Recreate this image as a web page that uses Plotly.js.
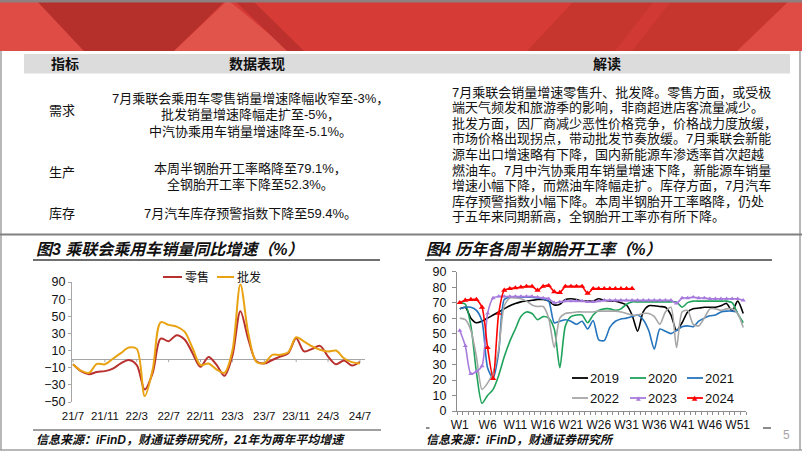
<!DOCTYPE html>
<html><head><meta charset="utf-8">
<script src="https://cdn.plot.ly/plotly-3.0.1.min.js"></script>
<style>html,body{margin:0;padding:0;background:#fff}#chart{width:802px;height:451px}</style>
</head><body><div id="chart"></div>
<script>
// ---------- DATA ----------
const months = ['21/7','21/8','21/9','21/10','21/11','21/12','22/1','22/2','22/3','22/4','22/5','22/6','22/7','22/8','22/9','22/10','22/11','22/12','23/1','23/2','23/3','23/4','23/5','23/6','23/7','23/8','23/9','23/10','23/11','23/12','24/1','24/2','24/3','24/4','24/5','24/6','24/7'];
const monthTicks = ['21/7','21/11','22/3','22/7','22/11','23/3','23/7','23/11','24/3','24/7'];
const retail = [-6,-14,-17.5,-15,-14,-11,-5,-1,-7,-35.5,-16,24,21,28,23,7,-9,2.5,-6.5,-19.5,4,56,23,-2.5,-5,-1,3,7,24.5,9,12,15.5,3,-6,-1.5,-7.5,-3];
const wholesale = [-6,-13.5,-16,-5.5,-6,0.5,7,13.5,12,-43,-12,43,40,38,32,13,-7,-5,-12,-16,10,87,30,-3,-4.5,5,5,8,25.5,20.5,15,11,9,10,1,-3.5,-5];
const chart3Series = ['零售','批发'];

const weekTicks = ['W1','W6','W11','W16','W21','W26','W31','W36','W41','W46','W51'];
const yearNames = ['2019','2020','2021','2022','2023','2024'];
const rate2019 = [66,67,60,57,58,60,62,64,66,68,69.5,70.5,71,71.5,72,72,71,68.5,69,72,72.5,72,71,71,71,72.5,71.5,71,71,70,68.5,62,51.5,64,68,68,67.5,67,62,52,57,64,66,66.5,67,67,67,68,69.5,64.5,71,63];
const rate2020 = [70,69,55,25,5,10,14,23,35,45,53,61,64,63,59,61,60,53,28,55,61,62,62,57,62,65,66,66,65,66,69,70.5,70.5,70.5,70.5,70.5,70.5,70.5,70.5,70.5,67,70,71,71,71,71,71,71,71,70,63,57];
const rate2021 = [66,67,67,65,58,28,21,38,72,73.5,73.5,73.5,73.5,73.5,73,72.5,71,57,58,59,58,56,58,53,58.5,46,45.5,54,58,59.5,60,61,62,59,52,40,53,51.5,50,52,54.5,55,54.5,58,60,61.5,62,64,64.5,64.5,64];
const rate2022 = [60,59,52,35,14,18,25,40,68,73,73,72.5,71,68.5,67.5,67.5,60,41,60,63,63.5,64,64,64,64,64.5,64.5,64.5,64.5,64,63,62,62,63,63,61,56,64,67,41,64,65,56,55,60,66,66,65,66,66,63,54];
const rate2023 = [52,42,24,25.5,29,63,73,74,74,74,74,74,74,74,73.5,73,72.5,70,70.5,71,71,71,71,70.5,70.5,71,71.5,71.5,71.5,71.5,71.5,71.5,71.5,71.5,71.5,71.5,71.5,71.5,71.5,69.5,73,73,73.5,73,73,72.5,72.5,72.5,72.5,72.5,72.5,71.5];
const rate2024 = [70,71.5,72,72,67,41,21,63,78,79,79.5,80,80.5,80.5,78,80.5,81,77,76.5,80.5,80.5,80.5,80.5,76,79,79,79,79,79,79,79,79.1];

const headerTexts = ['指标','数据表现','解读'];
const rowLabels = ['需求','生产','库存'];
const demandLines = ['7月乘联会乘用车零售销量增速降幅收窄至-3%，','批发销量增速降幅走扩至-5%，','中汽协乘用车销量增速降至-5.1%。'];
const productionLines = ['本周半钢胎开工率略降至79.1%，','全钢胎开工率下降至52.3%。'];
const inventoryLines = ['7月汽车库存预警指数下降至59.4%。'];
const readingLines = [
 '7月乘联会销量增速零售升、批发降。零售方面，或受极',
 '端天气频发和旅游季的影响，非商超进店客流量减少。',
 '批发方面，因厂商减少恶性价格竞争，价格战力度放缓，',
 '市场价格出现拐点，带动批发节奏放缓。7月乘联会新能',
 '源车出口增速略有下降，国内新能源车渗透率首次超越',
 '燃油车。7月中汽协乘用车销量增速下降，新能源车销量',
 '增速小幅下降，而燃油车降幅走扩。库存方面，7月汽车',
 '库存预警指数小幅下降。本周半钢胎开工率略降，仍处',
 '于五年来同期新高，全钢胎开工率亦有所下降。'
];
const title3 = '图3 乘联会乘用车销量同比增速（%）';
const title4 = '图4 历年各周半钢胎开工率（%）';
const source3 = '信息来源：iFinD，财通证券研究所，21年为两年平均增速';
const source4 = '信息来源：iFinD，财通证券研究所';
const pageNo = '5';

// ---------- HELPERS ----------
const W = 802, H = 451;
const X = px => px / W;
const Y = py => 1 - py / H;
const FONT = 'Liberation Sans, Arial, Noto Sans CJK SC, sans-serif';
const CJK = 'Liberation Sans, Noto Sans CJK SC, sans-serif';
function txt(text, px, py, size, o) {
  o = o || {};
  return {text: text, x: X(px), y: Y(py), xref: 'paper', yref: 'paper', showarrow: false,
    xanchor: o.anchor || 'left', yanchor: 'middle', borderpad: 0,
    font: {family: o.family || CJK, size: size, color: o.color || '#111',
      weight: o.weight || 'normal', style: o.style || 'normal'}};
}
function line(x0, y0, x1, y1, color, width) {
  return {type: 'line', xref: 'paper', yref: 'paper', x0: X(x0), y0: Y(y0), x1: X(x1), y1: Y(y1),
    line: {color: color, width: width}};
}
function poly(pts, color) {
  const d = pts.map((p, i) => (i ? 'L' : 'M') + X(p[0]) + ',' + Y(p[1])).join(' ') + ' Z';
  return {type: 'path', xref: 'paper', yref: 'paper', path: d, fillcolor: color, line: {width: 0}, layer: 'below'};
}
function rect(x0, y0, x1, y1, color) {
  return {type: 'rect', xref: 'paper', yref: 'paper', x0: X(x0), y0: Y(y0), x1: X(x1), y1: Y(y1),
    fillcolor: color, line: {width: 0}, layer: 'below'};
}

// ---------- TRACES ----------
const c3colors = ['#B8312F', '#E9A312'];
const traces = [
  {x: months, y: retail, name: chart3Series[0], type: 'scatter', mode: 'lines', xaxis: 'x', yaxis: 'y',
   line: {color: c3colors[0], width: 2, shape: 'spline', smoothing: 0.9}},
  {x: months, y: wholesale, name: chart3Series[1], type: 'scatter', mode: 'lines', xaxis: 'x', yaxis: 'y',
   line: {color: c3colors[1], width: 2, shape: 'spline', smoothing: 0.9}}
];
const rates = [rate2019, rate2020, rate2021, rate2022, rate2023, rate2024];
const c4colors = ['#000000', '#1FA35B', '#2474BE', '#A6A6A6', '#A77BDD', '#FF0000'];
rates.forEach((arr, k) => {
  const tr = {x: arr.map((_, i) => i + 1), y: arr, name: yearNames[k], type: 'scatter',
    xaxis: 'x2', yaxis: 'y2', mode: 'lines',
    line: {color: c4colors[k], width: 1.6, shape: 'spline', smoothing: 0.7}};
  if (k === 4) { tr.mode = 'lines+markers'; tr.marker = {symbol: 'triangle-up', size: 4.5, color: c4colors[k]}; }
  if (k === 5) { tr.mode = 'lines+markers'; tr.marker = {symbol: 'triangle-up', size: 5.5, color: c4colors[k]}; }
  traces.push(tr);
});

// ---------- SHAPES ----------
const shapes = [];
// banner
shapes.push(rect(0, 0, 802, 51, '#D63B35'));
shapes.push(poly([[0,0],[36,0],[84,51],[0,51]], '#DE4C45'));
shapes.push(poly([[36,0],[226,0],[174,51],[84,51]], '#B52F2B'));
shapes.push(poly([[228,0],[174,51],[290,51]], '#E1544C'));
shapes.push(poly([[234,0],[252,0],[304,51],[287,51]], '#BC312D'));
shapes.push(poly([[575,0],[802,0],[802,51],[527,51]], '#C7352F'));
shapes.push(poly([[655,0],[672,0],[632,51],[615,51]], '#D13A34'));
shapes.push(poly([[737,51],[790,0],[802,0],[802,51]], '#DF4C46'));
shapes.push(rect(0, 0, 802, 2.5, '#8E8080'));
// table header band
shapes.push(rect(24, 54, 790, 73.5, '#DCDCDC'));
// borders / separators
shapes.push(line(1, 51, 1, 450, '#A0A0A0', 1.5));
shapes.push(line(800, 51, 800, 450, '#A0A0A0', 1.5));
shapes.push(line(0, 450, 802, 450, '#A0A0A0', 1.5));
shapes.push(line(0, 234.5, 802, 234.5, '#808080', 2));
// title underlines
shapes.push(line(33, 260, 380, 260, '#404040', 1.5));
shapes.push(line(425, 260, 772, 260, '#404040', 1.5));
// footer lines
shapes.push(line(33, 430, 381, 430, '#404040', 1.2));
shapes.push(line(426, 428, 429.5, 428, '#404040', 1.2));
shapes.push(line(763, 428, 771, 428, '#404040', 1.2));
// chart3 tick marks on the zero line
monthTicks.forEach(m => shapes.push({type: 'line', xref: 'x', yref: 'y', x0: m, x1: m, y0: 0, y1: -3.5,
  line: {color: '#A6A6A6', width: 1}}));
// chart3 legend
shapes.push(line(163, 277, 182, 277, c3colors[0], 2));
shapes.push(line(217, 277, 234, 277, c3colors[1], 2));
// chart4 legend
const legPos = [[572,378],[630,378],[687,378],[572,398],[630,398],[687,398]];
legPos.forEach((p, k) => shapes.push(line(p[0], p[1], p[0] + 16, p[1], c4colors[k], 1.8)));

// ---------- ANNOTATIONS ----------
const ann = [];
ann.push(txt(headerTexts[0], 65, 64, 14, {anchor: 'center', weight: 'bold'}));
ann.push(txt(headerTexts[1], 257, 64, 14, {anchor: 'center', weight: 'bold'}));
ann.push(txt(headerTexts[2], 607, 64, 14, {anchor: 'center', weight: 'bold'}));
const rowY = [110, 172, 213];
rowLabels.forEach((t, i) => ann.push(txt(t, 62, rowY[i], 13, {anchor: 'center'})));
const demandY = [98, 114.5, 131];
demandLines.forEach((t, i) => ann.push(txt(t, 250, demandY[i], 13, {anchor: 'center'})));
const prodY = [168, 184];
productionLines.forEach((t, i) => ann.push(txt(t, 250, prodY[i], 13, {anchor: 'center'})));
inventoryLines.forEach((t, i) => ann.push(txt(t, 250, 213, 13, {anchor: 'center'})));
readingLines.forEach((t, i) => ann.push(txt(t, 451, 92 + i * 15.6, 13)));
ann.push(txt(title3, 35, 249, 16, {weight: 'bold', style: 'italic', color: '#111'}));
ann.push(txt(title4, 425, 249, 16, {weight: 'bold', style: 'italic', color: '#111'}));
ann.push(txt(source3, 35, 440, 12, {weight: 'bold', style: 'italic', color: '#111'}));
ann.push(txt(source4, 425, 440, 12, {weight: 'bold', style: 'italic', color: '#111'}));
ann.push(txt(pageNo, 786, 435, 12, {anchor: 'center', color: '#A6A6A6', family: FONT}));
// chart3 legend labels
ann.push(txt(chart3Series[0], 184, 277, 12));
ann.push(txt(chart3Series[1], 236, 277, 12));
// chart4 legend labels + markers
legPos.forEach((p, k) => {
  ann.push(txt(yearNames[k], p[0] + 17, p[1], 13, {family: FONT, color: '#111'}));
  if (k >= 4) ann.push(txt('▲', p[0] + 8, p[1] - 0.5, k === 5 ? 7 : 6, {anchor: 'center', color: c4colors[k], family: 'DejaVu Sans'}));
});

// ---------- LAYOUT ----------
const x3Domain = [72, 365], y3Top = 282, y3Bot = 402;
const x4Domain = [457, 746], y4Top = 271.7, y4Bot = 411;
const layout = {
  width: W, height: H, margin: {l: 0, r: 0, t: 0, b: 0},
  paper_bgcolor: '#fff', plot_bgcolor: 'rgba(0,0,0,0)', showlegend: false,
  font: {family: FONT, size: 11, color: '#111'},
  xaxis: {domain: [X(x3Domain[0]), X(x3Domain[1])], anchor: 'y', type: 'category',
    range: [-0.125, -0.125 + (x3Domain[1] - x3Domain[0]) / 7.97],
    tickmode: 'array', tickvals: monthTicks, ticktext: monthTicks, ticks: '',
    showline: false, showgrid: false, zeroline: false, ticklabelstandoff: 5,
    tickfont: {size: 11.5, color: '#111'}, fixedrange: true},
  yaxis: {domain: [Y(y3Bot), Y(y3Top)], anchor: 'x', range: [-50, 90],
    tickmode: 'array', tickvals: [-50, -30, -10, 10, 30, 50, 70, 90],
    ticks: 'outside', ticklen: 3, tickcolor: '#A6A6A6', showline: true, linecolor: '#A6A6A6', linewidth: 1,
    showgrid: false, zeroline: true, zerolinecolor: '#A6A6A6', zerolinewidth: 1,
    tickfont: {size: 12.5, color: '#111'}, fixedrange: true},
  xaxis2: {domain: [X(x4Domain[0]), X(x4Domain[1])], anchor: 'y2', range: [0.5, 52.5],
    tickmode: 'array', tickvals: weekTicks.map(s => parseInt(s.slice(1))), ticktext: weekTicks,
    ticks: '', showline: true, linecolor: '#8C8C8C', linewidth: 1, showgrid: false, zeroline: false,
    minor: {ticks: 'outside', tick0: 0.5, dtick: 1, ticklen: 3, tickcolor: '#8C8C8C', showgrid: false},
    ticklabelstandoff: 3, tickfont: {size: 12, color: '#111'}, fixedrange: true},
  yaxis2: {domain: [Y(y4Bot), Y(y4Top)], anchor: 'x2', range: [0, 90], dtick: 10, tick0: 0,
    ticks: 'outside', ticklen: 4, tickcolor: '#8C8C8C', showline: true, linecolor: '#8C8C8C', linewidth: 1,
    showgrid: false, zeroline: false, ticklabelstandoff: 3,
    tickfont: {size: 12.5, color: '#111'}, fixedrange: true},
  shapes: shapes,
  annotations: ann
};
Plotly.newPlot('chart', traces, layout, {staticPlot: true, displayModeBar: false});
</script></body></html>
